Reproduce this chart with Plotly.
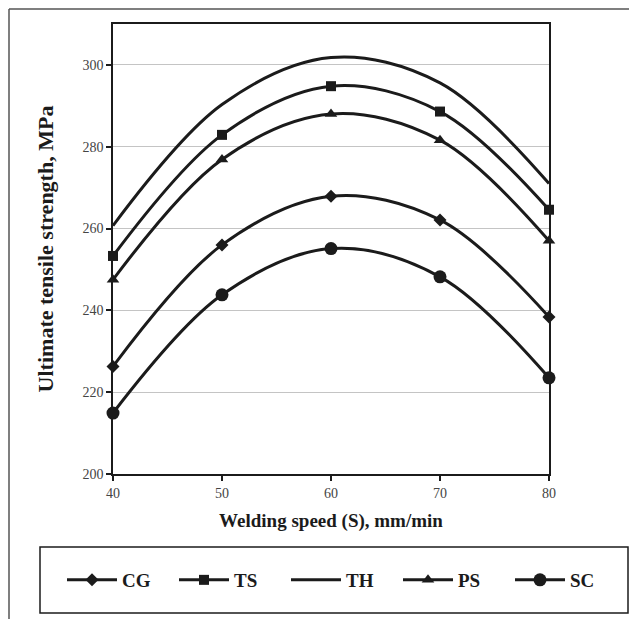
import plotly.graph_objects as go

speed = [40, 50, 60, 70, 80]
series_names = ["CG", "TS", "TH", "PS", "SC"]
cg = [226.3, 256.0, 267.9, 262.1, 238.4]
ts = [253.3, 282.9, 294.8, 288.6, 264.6]
th = [260.7, 290.3, 301.8, 295.6, 271.0]
ps = [247.5, 276.9, 288.0, 281.6, 257.0]
sc = [214.9, 243.8, 255.1, 248.2, 223.5]
y_ticks = [200, 220, 240, 260, 280, 300]
x_ticks = [40, 50, 60, 70, 80]

values = [cg, ts, th, ps, sc]
symbols = ["diamond", "square", None, "triangle-up", "circle"]
sizes = [10, 10, 0, 11, 13]
legend_widths = [None, None, None, None, 30]

FONT = "Liberation Serif"
INK = "#1b1b1b"

fig = go.Figure()
for name, vals, sym, sz, lw in zip(series_names, values, symbols, sizes, legend_widths):
    mode = "lines" if sym is None else "lines+markers"
    fig.add_trace(go.Scatter(
        x=speed, y=vals, name=name, mode=mode,
        line=dict(color=INK, width=3, shape="spline", smoothing=1.0),
        marker=dict(symbol=sym or "circle", size=sz, color=INK) if sym else None,
        cliponaxis=False,
        legendwidth=lw,
    ))

# The page body adds an 8px offset; work in window pixels and convert.
OFF = 8
W, H = 637 - OFF, 619 - OFF
L, R, T, B = 113 - OFF, 549 - OFF, 24 - OFF, 474 - OFF

def px(xw):
    return (xw - OFF - L) / (R - L)

def py(yw):
    return (B - (yw - OFF)) / (B - T)

fig.update_layout(
    width=W, height=H,
    margin=dict(l=L, r=W - R, t=T, b=H - B, autoexpand=False),
    paper_bgcolor="white", plot_bgcolor="white",
    font=dict(family=FONT, color=INK),
    showlegend=True,
    legend=dict(
        orientation="h", x=px(62), xanchor="left", y=py(580), yanchor="middle",
        font=dict(family=FONT, size=19, color=INK, weight="bold"),
        itemwidth=50, entrywidth=47, bgcolor="rgba(0,0,0,0)", borderwidth=0,
        tracegroupgap=0,
    ),
    xaxis=dict(
        range=[40, 80], tickvals=x_ticks, ticks="outside", ticklen=5, tickwidth=1.5,
        tickcolor=INK, showline=True, linecolor=INK, linewidth=1.5, mirror=True,
        showgrid=False, zeroline=False, automargin=False,
        tickfont=dict(family=FONT, size=14, color="#444444"),
        title=dict(text="<b>Welding speed (S), mm/min</b>", font=dict(family=FONT, size=19, color=INK), standoff=14),
    ),
    yaxis=dict(
        range=[200, 310], tickvals=y_ticks, ticks="outside", ticklen=5, tickwidth=1.5,
        tickcolor=INK, showline=True, linecolor=INK, linewidth=1.5, mirror=True,
        showgrid=True, gridcolor="#c4c4c4", gridwidth=1, zeroline=False, automargin=False,
        tickfont=dict(family=FONT, size=14, color="#444444"),
        title=dict(text="<b>Ultimate tensile strength, MPa</b>", font=dict(family=FONT, size=22, color=INK), standoff=23),
    ),
    shapes=[
        # outer frame (top and left edges)
        dict(type="line", xref="paper", yref="paper", x0=px(9), x1=px(637), y0=py(9), y1=py(9),
             line=dict(color="#555555", width=1.5)),
        dict(type="line", xref="paper", yref="paper", x0=px(9), x1=px(9), y0=py(9), y1=py(619),
             line=dict(color="#555555", width=1.5)),
        # legend box
        dict(type="rect", xref="paper", yref="paper", x0=px(40), x1=px(628), y0=py(613), y1=py(547),
             line=dict(color=INK, width=1.5)),
    ],
)

fig.write_html("out.html")
